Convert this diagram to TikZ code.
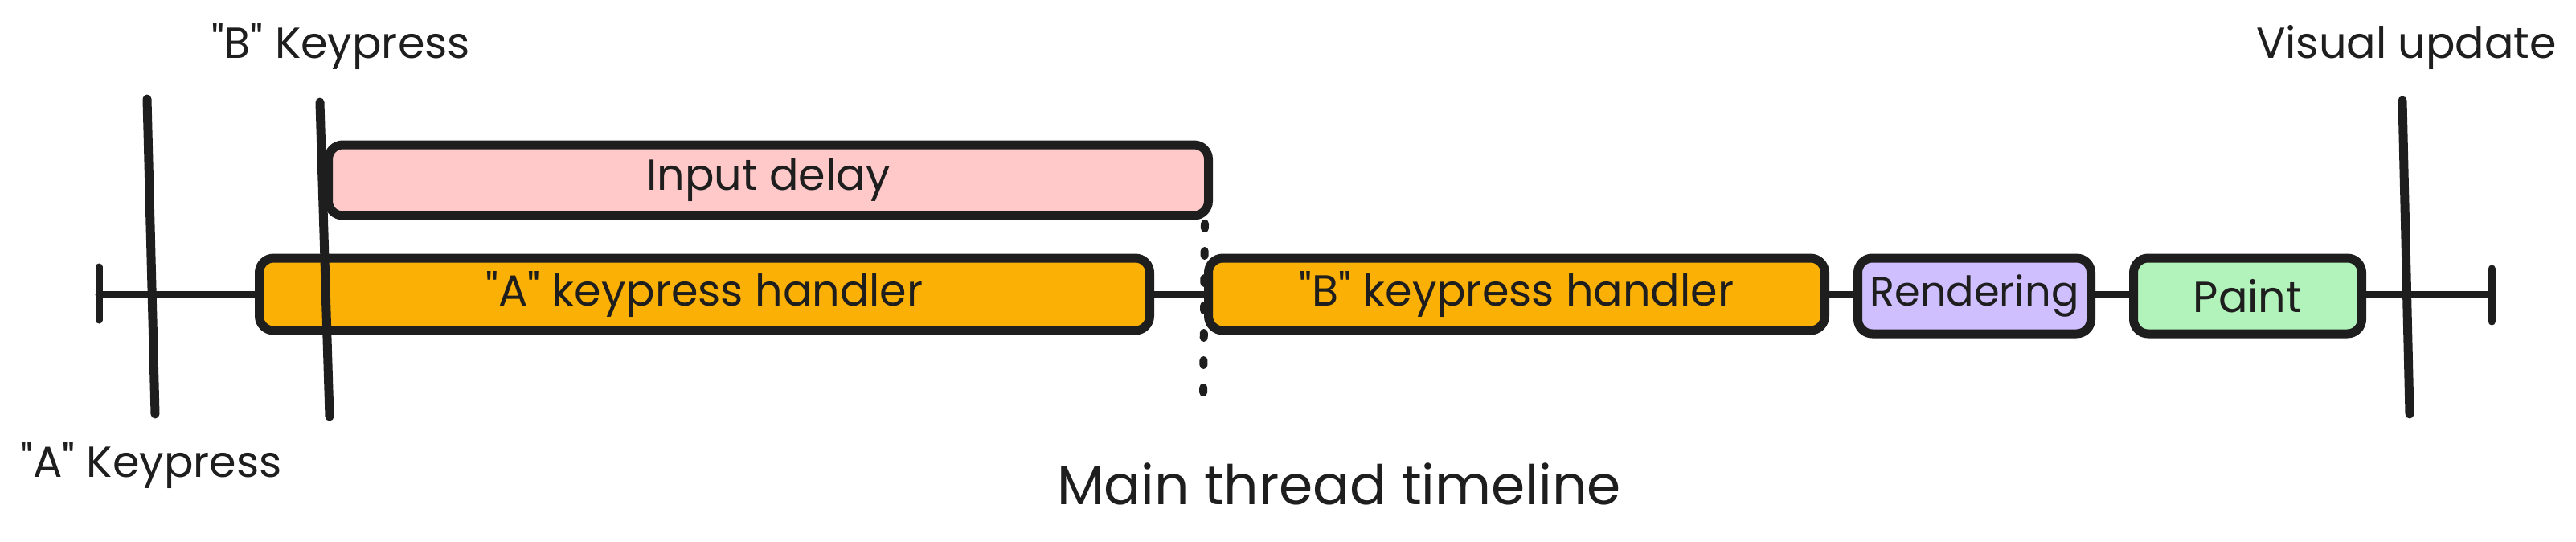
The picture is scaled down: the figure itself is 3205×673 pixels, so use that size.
\documentclass[tikz,border=0pt]{standalone}
\usepackage{fontspec}
\setmainfont{Poppins}[Ligatures=TeXOff]
\newcommand\tllabelfont{\fontsize{54}{60}\selectfont}
\newcommand\tlsmallfont{\fontsize{51}{56}\selectfont}
\newcommand\tlbigfont{\fontsize{68}{76}\selectfont}
\definecolor{ink}{HTML}{1E1E1E}
\definecolor{pinkc}{HTML}{FFC9C9}
\definecolor{orangec}{HTML}{FAB005}
\definecolor{purplec}{HTML}{D0BFFF}
\definecolor{greenc}{HTML}{B2F2BB}
\begin{document}
\begin{tikzpicture}[x=1pt,y=-1pt,
  inkline/.style={draw=ink, line width=11pt, line cap=round, line join=round},
  axis/.style={draw=ink, line width=9pt, line cap=round},
  bar/.style={inkline, rounded corners=18pt, inner sep=0pt, anchor=west,
    font=\tllabelfont, text=ink},
  label/.style={font=\tllabelfont, text=ink, anchor=base, inner sep=0pt},
  dotline/.style={draw=ink, line width=10pt, line cap=round, dash pattern=on 6pt off 28pt}]
\useasboundingbox (0,0) rectangle (3205,673);
% timeline
\coordinate (tl) at (123,366);
\coordinate (tr) at (3100,366);
\draw[axis] (tl) -- (tr);
\draw[axis] ([yshift=-32pt]tl) -- ([yshift=34pt]tl);
\draw[axis] ([yshift=-34pt]tr) -- ([yshift=32pt]tr);
% dotted marker
\coordinate (dtop) at (1499,278);
\coordinate (dbot) at (1497,500);
\draw[dotline] (dtop) -- (dbot);
% bars
\node[bar, fill=pinkc, minimum width=1095pt, minimum height=88pt] (id) at (403,224) {Input delay};
\node[bar, fill=orangec, minimum width=1108pt, minimum height=90pt] (ah) at (317,366) {"A" keypress handler};
\node[bar, fill=orangec, minimum width=767pt, minimum height=90pt] (bh) at (1498,366) {"B" keypress handler};
\node[bar, fill=purplec, minimum width=290pt, minimum height=94pt, font=\tlsmallfont] (rd) at (2306,368) {Rendering};
\node[bar, fill=greenc, minimum width=284pt, minimum height=94pt] (pt) at (2649,368) {Paint};
% event markers
\coordinate (a1) at (183,123);
\coordinate (a2) at (193,515);
\coordinate (b1) at (398,127);
\coordinate (b2) at (410,518);
\coordinate (v1) at (2989,125);
\coordinate (v2) at (2998,515);
\draw[inkline] (a1) -- (a2);
\draw[inkline] (b1) -- (b2);
\draw[inkline] (v1) -- (v2);
% labels
\node[label] (bk) at (424,72) {"B" Keypress};
\node[label] (vu) at (2994,72) {Visual update};
\node[label] (ak) at (188,593) {"A" Keypress};
\node[label, font=\tlbigfont] (mt) at (1666,627) {Main thread timeline};
\end{tikzpicture}
\end{document}
